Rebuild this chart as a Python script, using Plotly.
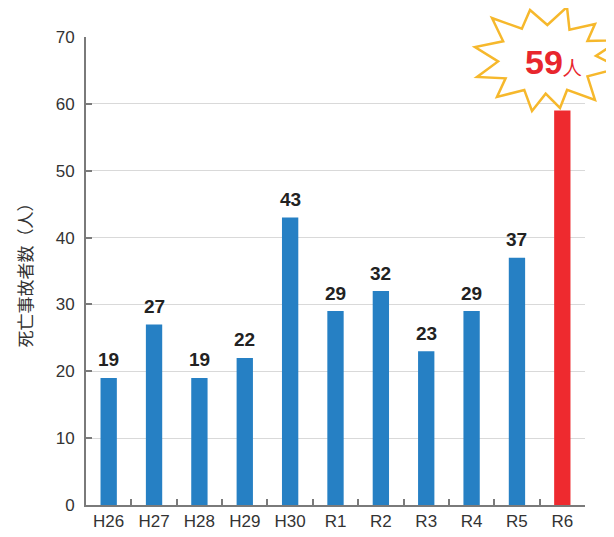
import plotly.graph_objects as go

categories = ["H26", "H27", "H28", "H29", "H30", "R1", "R2", "R3", "R4", "R5", "R6"]
deaths = [19, 27, 19, 22, 43, 29, 32, 23, 29, 37, 59]
bar_colors = ["#2680c4"] * 10 + ["#ee2a2f"]
labelled = categories[:-1]
label_values = deaths[:-1]
y_ticks = [0, 10, 20, 30, 40, 50, 60, 70]
highlight_text = "<b>59</b><span style='font-size:19px'>人</span>"

O = 8  # page body margin of the browser
W, H = 614 - O, 537 - O
# target plot area in screen pixels
L, R, T, B = 86, 585, 37, 505

def px(x):
    return (x - L) / (R - L)

def py(y):
    return (B - y) / (B - T)

# starburst outline (screen pixel positions of tips)
cx, cy = 545, 60
tips = [(530, 10), (567, 7), (595, 24), (620, 40), (620, 68), (595, 100),
        (560, 108), (532, 111), (497, 97), (477, 77), (475, 47), (492, 18)]
k = 0.68
pts = []
for i, t in enumerate(tips):
    n = tips[(i + 1) % len(tips)]
    mx, my = (t[0] + n[0]) / 2, (t[1] + n[1]) / 2
    pts.append(t)
    pts.append((cx + k * (mx - cx), cy + k * (my - cy)))
path = "M " + " L ".join(f"{px(x):.4f},{py(y):.4f}" for x, y in pts) + " Z"

fig = go.Figure()
fig.add_trace(go.Bar(
    x=categories, y=deaths, marker=dict(color=bar_colors, line=dict(width=0)),
    width=0.36,
))

for c, v in zip(labelled, label_values):
    fig.add_annotation(x=c, y=v, text=f"<b>{v}</b>", showarrow=False, yshift=18,
                       xanchor="center", yanchor="middle",
                       font=dict(size=19, color="#222222", family="Liberation Sans"))

fig.add_shape(type="path", path=path, xref="paper", yref="paper",
              fillcolor="white", line=dict(color="#f6b82c", width=2.5), layer="above")
fig.add_annotation(x=px(553), y=py(62), xref="paper", yref="paper", text=highlight_text,
                   showarrow=False, font=dict(size=34, color="#e8262d", family="Liberation Sans"),
                   xanchor="center", yanchor="middle")

fig.update_layout(
    width=W, height=H, margin=dict(l=L - O, r=W - (R - O), t=T - O, b=H - (B - O)),
    plot_bgcolor="white", paper_bgcolor="white", showlegend=False,
    font=dict(family="Liberation Sans, Noto Sans CJK JP", size=17, color="#333333"),
    xaxis=dict(showline=True, linecolor="#7a7a7a", linewidth=2, ticks="inside",
               tickson="boundaries", ticklen=6, tickcolor="#7a7a7a", tickwidth=2,
               tickfont=dict(size=17, color="#333333"), showgrid=False, automargin=False),
    yaxis=dict(range=[0, 70], tickvals=y_ticks, showline=True, linecolor="#7a7a7a",
               linewidth=2, ticks="inside", ticklen=6, tickcolor="#7a7a7a", tickwidth=2,
               showgrid=True, gridcolor="#d9d9d9", gridwidth=1, zeroline=False,
               tickfont=dict(size=17, color="#333333"), ticklabelstandoff=6, automargin=False,
               title=dict(text="死亡事故者数（人）", standoff=19,
                          font=dict(size=17, color="#333333", family="Noto Sans CJK JP"))),
)

fig.write_html("out.html")
